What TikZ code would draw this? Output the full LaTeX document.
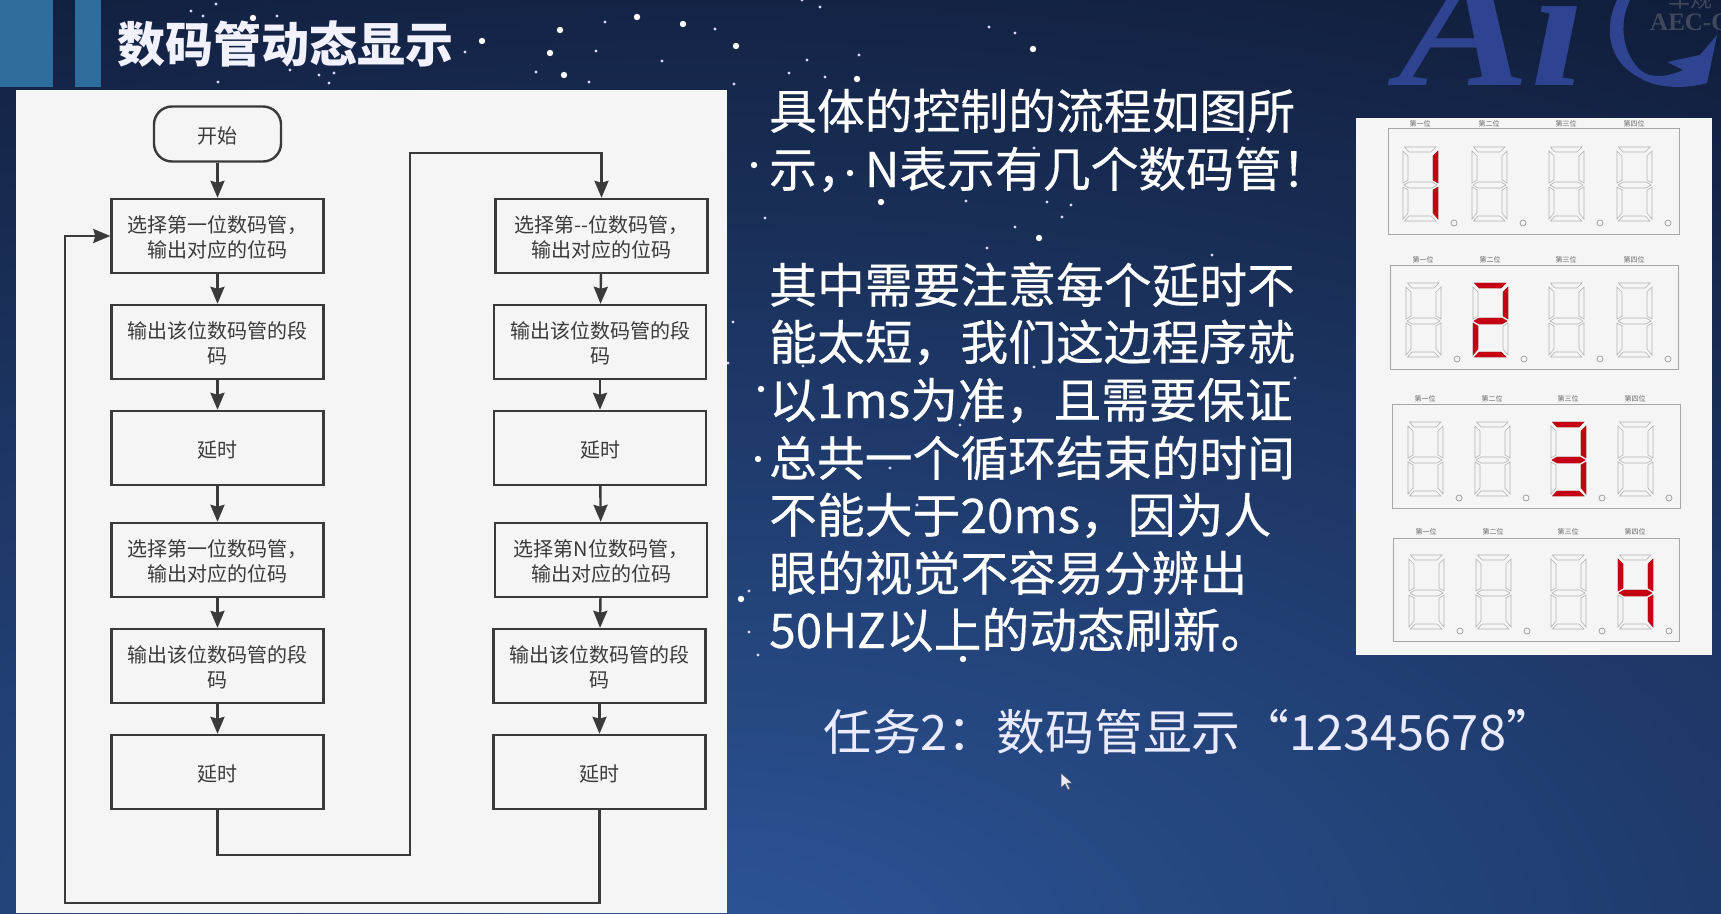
\documentclass[tikz,border=0pt]{standalone}
\usepackage{fontspec}
\usetikzlibrary{arrows.meta}
\newfontfamily\cjk{Noto Sans CJK SC}
\newfontfamily\cjkmed[FakeBold=0.35]{Noto Sans CJK SC}
\newfontfamily\logofont{Liberation Serif}
\definecolor{nighttop}{HTML}{0F1A35}
\definecolor{nightlow}{HTML}{2C5598}
\definecolor{tabblue}{HTML}{2E6D9E}
\definecolor{logoblue}{HTML}{2F4490}
\definecolor{flowgray}{HTML}{3A3A3A}
\definecolor{paperwhite}{HTML}{F5F5F6}
\definecolor{segred}{HTML}{C40012}
\tikzset{
  stepbox/.style={draw=flowgray,line width=2.4pt,minimum width=212pt,minimum height=74pt,inner sep=0pt,
    align=center,text=flowgray,text height=20pt,font=\cjk\fontsize{20}{25}\selectfont},
  steptwo/.style={stepbox,text height=45pt},
  startbox/.style={stepbox,rounded corners=18pt,minimum width=127pt,minimum height=55pt},
  flowline/.style={draw=flowgray,line width=2.4pt,-{Stealth[length=17pt,width=14pt,inset=2pt]}},
  bodytext/.style={anchor=base west,inner sep=0pt,text=white,font=\cjkmed\fontsize{47.8}{57}\selectfont},
  tasktext/.style={anchor=base west,inner sep=0pt,text=white!92!blue,font=\cjk\fontsize{48.8}{57}\selectfont},
  offseg/.style={draw=black!30,line width=0.6pt},
  onseg/.style={fill=segred,draw=segred,line width=0.4pt},
  taglabel/.style={inner sep=0pt,text=black!60,font=\cjk\fontsize{7}{8}\selectfont},
  bigstar/.style={fill=white,draw=none},
}
\def\sega{(1.5,0)--(33,0)--(28,5)--(6,5)--cycle}
\def\segb{(35,4)--(35,36)--(30,33)--(30,9)--cycle}
\def\segc{(35,40)--(35,72)--(30,66)--(30,43)--cycle}
\def\segd{(1.5,74)--(6,69)--(28,69)--(33,74)--cycle}
\def\sege{(0,40)--(5,43)--(5,66)--(0,72)--cycle}
\def\segf{(0,4)--(5,9)--(5,33)--(0,36)--cycle}
\def\segg{(1,38)--(6,35)--(29,35)--(34,38)--(29,41)--(6,41)--cycle}
\newcommand{\segdigit}[3]{%
  \begin{scope}[shift={(#1,#2)}]
    \foreach \s in {\sega,\segb,\segc,\segd,\sege,\segf,\segg}
      \draw[offseg] \s;
    \draw[draw=black!40,line width=0.7pt] (51,76) circle (3pt);
    \node[taglabel] (tag#1x#2) at (17,-23) {#3};
  \end{scope}}
\begin{document}
\begin{tikzpicture}[x=1pt,y=-1pt]
  \useasboundingbox (0,0) rectangle (1721,913);
  \begin{scope}
    \clip (0,0) rectangle (1721,913);
    \fill[nighttop] (0,0) rectangle (1721,913);
    \shade[inner color=nightlow,outer color=nighttop] (700,950) ellipse (2300pt and 1130pt);

    \foreach \x/\y in {191/11,203/16,216/4,277/16,605/22,715/29,596/51,662/61,536/72,589/82,465/52,
        319/75,329/83,334/73,290/70,218/82,820/7,802/0,859/55,807/60,789/73,825/77,734/84,989/27,1015/33,
        765/218,966/201,1047/202,1071/205,1062/217,1015/227,987/248,1212/255,733/322,1248/139,
        1034/148,1295/378,917/505,803/366,1034/367,890/468,960/425,728/363,749/591,749/632,758/655}
      \fill[white!85!blue] (\x,\y) circle (1.6pt);
    \foreach \x/\y in {253/18,482/41,560/30,637/17,683/24,736/46,550/53,564/75,857/79,1033/49,
        754/165,850/173,881/202,1039/238,761/389,758/459,741/599,963/659}
      \fill[bigstar] (\x,\y) circle (3.2pt);

    \node[anchor=base west,inner sep=0pt,text=logoblue,text depth=0pt,font=\logofont\bfseries\itshape\fontsize{172}{172}\selectfont]
      (logoai) at (1398,85) {\scalebox{1.15}[1]{Ai}};
    \fill[logoblue] (1617,0) .. controls (1605,25) and (1605,60) .. (1640,78)
      .. controls (1660,90) and (1690,88) .. (1707,83) -- (1717,35) -- (1700,55) -- (1667,62) -- (1683,70)
      .. controls (1665,78) and (1650,78) .. (1640,70) .. controls (1620,50) and (1620,20) .. (1630,0) -- cycle;
    \node[anchor=base west,inner sep=0pt,text=white!20!nighttop,font=\logofont\bfseries\fontsize{25}{25}\selectfont]
      (logoaec) at (1650,30) {AEC-Q};
    \node[anchor=base,inner sep=0pt,text=white!20!nighttop,font=\cjk\fontsize{22}{22}\selectfont]
      (logocar) at (1690,7) {车规};

    \fill[tabblue] (0,0) rectangle (53,87);
    \fill[tabblue] (75,0) rectangle (101,87);
    \node[anchor=base west,inner sep=0pt,text=white!95!blue,font=\cjk\bfseries\fontsize{48}{48}\selectfont]
      (title) at (117,62) {数码管动态显示};

    \fill[paperwhite] (16,90) rectangle (727,913);
    \fill[paperwhite] (1356,118) rectangle (1712,655);

    \node[startbox] (start) at (217.5,134) {开始};
    \node[steptwo] (l1) at (217.5,236) {选择第一位数码管，\\输出对应的位码};
    \node[steptwo] (l2) at (217.5,342) {输出该位数码管的段\\码};
    \node[stepbox] (l3) at (217.5,448) {延时};
    \node[steptwo] (l4) at (217.5,560) {选择第一位数码管，\\输出对应的位码};
    \node[steptwo] (l5) at (217.5,666) {输出该位数码管的段\\码};
    \node[stepbox] (l6) at (217.5,772) {延时};
    \node[steptwo] (r1) at (601.5,236) {选择第--位数码管，\\输出对应的位码};
    \node[steptwo] (r2) at (600,342) {输出该位数码管的段\\码};
    \node[stepbox] (r3) at (600,448) {延时};
    \node[steptwo] (r4) at (601,560) {选择第N位数码管，\\输出对应的位码};
    \node[steptwo] (r5) at (599.5,666) {输出该位数码管的段\\码};
    \node[stepbox] (r6) at (599.5,772) {延时};

    \draw[flowline] (start) -- (l1);
    \foreach \a/\b in {l1/l2,l2/l3,l3/l4,l4/l5,l5/l6,r1/r2,r2/r3,r3/r4,r4/r5,r5/r6}
      \draw[flowline] (\a) -- (\b);
    \coordinate (hoplow) at (410,855);
    \coordinate (hoptop) at (410,153);
    \coordinate (looplow) at (65,903);
    \coordinate (looptop) at (65,236);
    \draw[flowline] (l6.south) |- (hoplow) -- (hoptop) -| (r1.north);
    \draw[flowline] (r6.south) |- (looplow) -- (looptop) -- (l1.west);

    \foreach \ty/\tline in {129/具体的控制的流程如图所,187/示，N表示有几个数码管！,303/其中需要注意每个延时不,
        360/能太短，我们这边程序就,418/以1ms为准，且需要保证,476/总共一个循环结束的时间,
        533/不能大于20ms，因为人,591/眼的视觉不容易分辨出,648/50HZ以上的动态刷新。}
      \node[bodytext] (line\ty) at (769,\ty) {\tline};
    \node[tasktext] (task) at (823,750) {任务2：数码管显示“12345678”};

    \foreach \fa/\fb/\fc/\fd/\dy/\xa/\xb/\xc/\xd in {
        1388/128/1679/234/147/1403/1472/1549/1617,
        1390/265/1678/369/283/1406/1473/1549/1617,
        1392/404/1680/508/422/1408/1475/1551/1618,
        1393/538/1679/641/555/1409/1476/1551/1618}
    {
      \draw[draw=black!35,line width=0.8pt] (\fa,\fb) rectangle (\fc,\fd);
      \segdigit{\xa}{\dy}{第一位}
      \segdigit{\xb}{\dy}{第二位}
      \segdigit{\xc}{\dy}{第三位}
      \segdigit{\xd}{\dy}{第四位}
    }
    \foreach \dx/\dy/\dlit in {1403/147/{\segb,\segc},1473/283/{\sega,\segb,\segg,\sege,\segd},
        1551/422/{\sega,\segb,\segg,\segc,\segd},1618/555/{\segf,\segb,\segg,\segc}}
    {
      \begin{scope}[shift={(\dx,\dy)}]
        \foreach \s in \dlit
          \path[onseg] \s;
      \end{scope}
    }

    \draw[fill=white!92!blue,draw=black!70,line width=0.5pt] (1061,773) -- (1061,788) -- (1065,784) -- (1068,790)
      -- (1070,789) -- (1067,783) -- (1072,783) -- cycle;
  \end{scope}
\end{tikzpicture}
\end{document}
